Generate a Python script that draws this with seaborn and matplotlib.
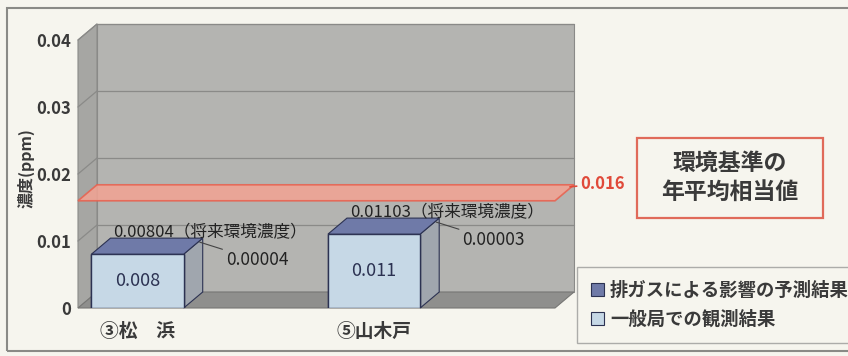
import numpy as np
import pandas as pd
import matplotlib
matplotlib.use('Agg')
import matplotlib.pyplot as plt
import seaborn as sns
from matplotlib.patches import Polygon, Rectangle, Patch
from matplotlib.transforms import IdentityTransform
from matplotlib.lines import Line2D

# ---- data ----
categories = ['③松\u3000浜', '⑤山木戸']
observed = [0.008, 0.011]          # 一般局での観測結果
effect = [0.00004, 0.00003]        # 排ガスによる影響の予測結果
future = [0.00804, 0.01103]        # 将来環境濃度
standard = 0.016                   # 環境基準の年平均相当値
yticks = [0, 0.01, 0.02, 0.03, 0.04]
ytick_labels = ['0', '0.01', '0.02', '0.03', '0.04']
legend_labels = ['排ガスによる影響の予測結果', '一般局での観測結果']

sns.set_theme(style='white')
plt.rcParams['font.family'] = ['Noto Sans CJK JP', 'DejaVu Sans']

BG = '#f6f5ee'
WALL = '#b4b4b1'
LWALL = '#a6a6a3'
FLOOR = '#8f8f8d'
GRID = '#8a8a88'
LIGHT = '#c6d8e6'
TOP = '#6f7aa8'
SIDE = '#a0a6ae'
EDGE = '#2c3252'
RED = '#e04a3a'
TXT = '#3a3a3a'

W, H = 848, 356
fig = plt.figure(figsize=(W / 100, H / 100), dpi=100, facecolor=BG)
ax = fig.add_axes([78 / W, (H - 308) / H, (555 - 78) / W, (308 - 40) / H])
ax.set_facecolor('none')

df = pd.DataFrame({'地点': categories,
                   'total': [o + e for o, e in zip(observed, effect)],
                   'observed': observed})

sns.barplot(data=df, x='地点', y='total', color=TOP, saturation=1, width=0.39,
            edgecolor=EDGE, linewidth=1, ax=ax, zorder=4)
sns.barplot(data=df, x='地点', y='observed', color=LIGHT, saturation=1, width=0.39,
            edgecolor=EDGE, linewidth=1, ax=ax, zorder=4)

xl, xr = -0.252, 1.765
ax.set_xlim(xl, xr)
ax.set_ylim(0, 0.04)
ax.set_yticks(yticks)
ax.set_yticklabels(ytick_labels, fontsize=12, color=TXT, fontweight='bold')
ax.set_xlabel('')
ax.set_ylabel('')
ax.tick_params(axis='x', length=0, pad=10, labelsize=13.5, labelcolor=TXT)
for t in ax.get_xticklabels():
    t.set_fontweight('bold')
ax.tick_params(axis='y', length=0, pad=5)
for s in ax.spines.values():
    s.set_visible(False)

DX, DY = 19, 16


def D(x, y, back=False):
    p = ax.transData.transform((x, y))
    if back:
        p = p + np.array([DX, DY])
    return p


def poly(pts, **kw):
    p = Polygon(np.array(pts), closed=True, transform=IdentityTransform(),
                clip_on=False, **kw)
    ax.add_patch(p)
    return p


ymax = 0.04
# back wall, left wall, floor
poly([D(xl, 0, True), D(xr, 0, True), D(xr, ymax, True), D(xl, ymax, True)],
     facecolor=WALL, edgecolor=GRID, lw=0.8, zorder=0)
poly([D(xl, 0), D(xl, ymax), D(xl, ymax, True), D(xl, 0, True)],
     facecolor=LWALL, edgecolor=GRID, lw=0.8, zorder=0.5)
poly([D(xl, 0), D(xr, 0), D(xr, 0, True), D(xl, 0, True)],
     facecolor=FLOOR, edgecolor='#777775', lw=0.8, zorder=0.6)
for y in yticks[1:]:
    a, b = D(xl, y, True), D(xr, y, True)
    ax.add_line(Line2D([a[0], b[0]], [a[1], b[1]], color=GRID, lw=0.9,
                       transform=IdentityTransform(), clip_on=False, zorder=0.7))
    c = D(xl, y)
    ax.add_line(Line2D([c[0], a[0]], [c[1], a[1]], color=GRID, lw=0.9,
                       transform=IdentityTransform(), clip_on=False, zorder=0.7))

# 3D faces of bars
bars = ax.patches[:len(categories)]
for i, p in enumerate(bars):
    x0, w = p.get_x(), p.get_width()
    t = observed[i] + effect[i]
    poly([D(x0 + w, 0), D(x0 + w, t), D(x0 + w, t, True), D(x0 + w, 0, True)],
         facecolor=SIDE, edgecolor=EDGE, lw=0.8, zorder=3.5)
    poly([D(x0, t), D(x0 + w, t), D(x0 + w, t, True), D(x0, t, True)],
         facecolor=TOP, edgecolor=EDGE, lw=0.8, zorder=4.5)
    # value inside the bar
    ax.text(x0 + w / 2, observed[i] / 2, f'{observed[i]:g}', ha='center', va='center',
            fontsize=13, color=EDGE, zorder=6)
    # future concentration label
    ax.annotate(f'{future[i]:.5f}（将来環境濃度）', xy=(x0, t), xytext=(22, 21),
                textcoords='offset pixels', ha='left', va='center', fontsize=12,
                color='#222222', zorder=6)
    # effect label with leader line
    corner = D(x0 + w, t, True)
    ax.annotate(f'{effect[i]:.5f}', xy=(corner[0] - 3, corner[1] - 4),
                xycoords='figure pixels',
                xytext=(corner[0] + 23, corner[1] - 22), textcoords='figure pixels',
                ha='left', va='center', fontsize=12.5, color='#222222', zorder=6,
                arrowprops=dict(arrowstyle='-', color='#444444', lw=0.8,
                                shrinkA=0, shrinkB=0))

# environmental standard plane
poly([D(xl, standard), D(xr, standard), D(xr, standard, True), D(xl, standard, True)],
     facecolor='#f3a393', alpha=0.85, edgecolor='#e8604e', lw=1.2, zorder=5)
c = D(xr, standard, True)
ax.annotate(f'{standard:.3f}', xy=(c[0] - 4, c[1] - 2), xycoords='figure pixels',
            xytext=(c[0] + 6, c[1] + 1), textcoords='figure pixels',
            ha='left', va='center', fontsize=12, fontweight='bold', color=RED,
            arrowprops=dict(arrowstyle='-', color=RED, lw=1.2, shrinkA=0, shrinkB=0),
            zorder=6)

# y label
fig.text(26 / W, 1 - 168 / H, '濃度(ppm)', rotation=90, ha='center', va='center',
         fontsize=11.5, fontweight='bold', color=TXT)

# standard box
fig.patches.append(Rectangle((637 / W, (H - 218) / H), 186 / W, 80 / H, fill=False,
                             edgecolor='#e06a5a', lw=1.6, transform=fig.transFigure))
fig.text(730 / W, 1 - 178 / H, '環境基準の\n年平均相当値', ha='center', va='center',
         fontsize=16.5, fontweight='bold', color=TXT, linespacing=1.3)

# legend
handles = [Patch(facecolor=TOP, edgecolor=EDGE, lw=0.8),
           Patch(facecolor=LIGHT, edgecolor=EDGE, lw=0.8)]
leg = fig.legend(handles, legend_labels, loc='upper left',
                 bbox_to_anchor=(577 / W, (H - 267) / H), frameon=True, fontsize=13.2,
                 handlelength=0.7, handleheight=0.7, handletextpad=0.35,
                 labelspacing=0.55, borderpad=0.75, borderaxespad=0, fancybox=False,
                 edgecolor='#9a9a98', facecolor=BG)
leg.get_frame().set_linewidth(1.0)
for t in leg.get_texts():
    t.set_color(TXT)
    t.set_fontweight('bold')

# outer frame
fig.patches.append(Rectangle((7 / W, (H - 351) / H), 1.0, (351 - 8) / H, fill=False,
                             edgecolor='#8a8a86', lw=1.5, transform=fig.transFigure))

fig.savefig('out.png', dpi=100, facecolor=BG)
